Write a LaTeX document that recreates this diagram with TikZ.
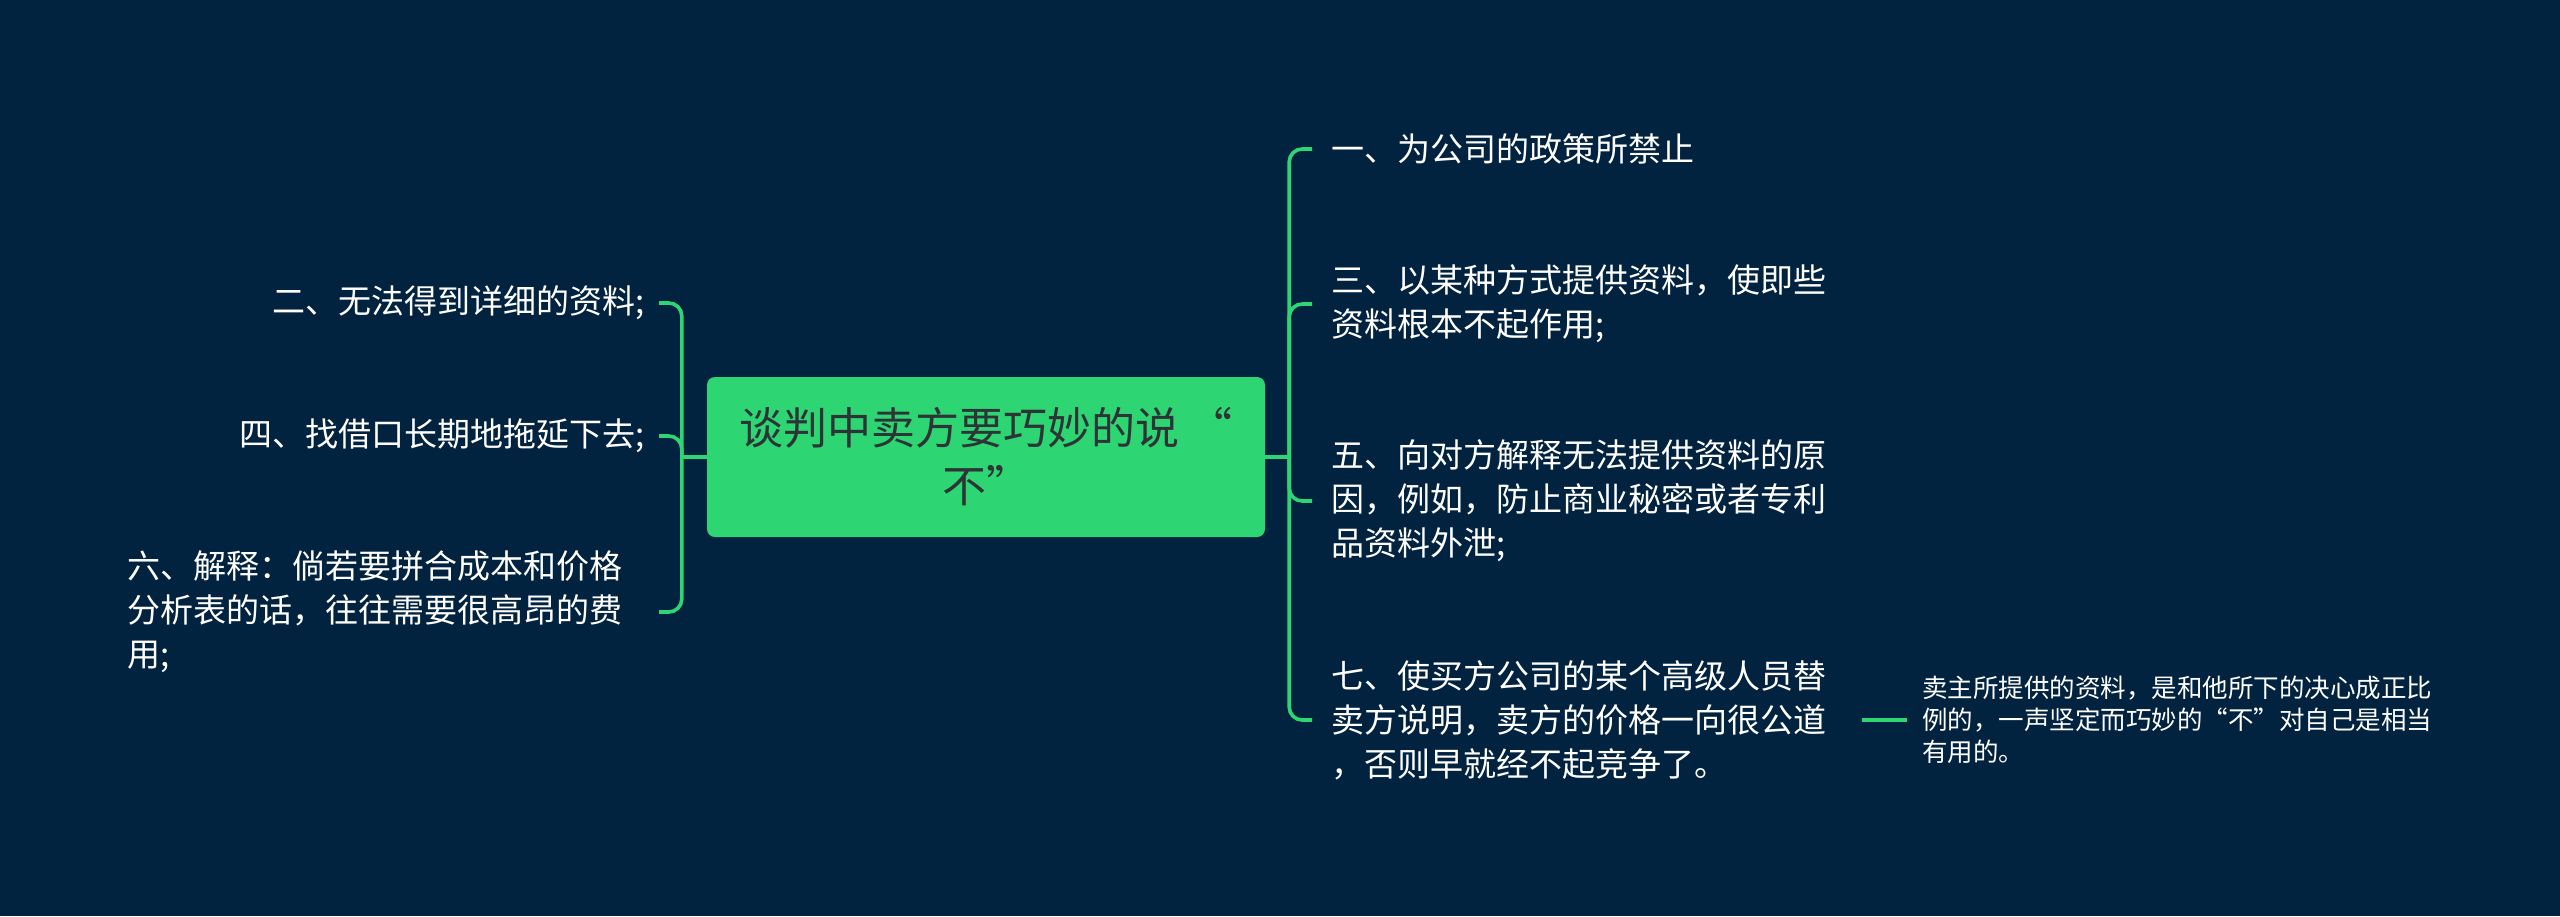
\documentclass[tikz,border=0pt]{standalone}
\usepackage{fontspec}
\newfontfamily\cjk{Noto Sans CJK SC}
\definecolor{bg}{RGB}{2,35,64}
\definecolor{mmgreen}{RGB}{46,213,115}
\definecolor{ctext}{RGB}{45,52,54}
\begin{document}
\begin{tikzpicture}[x=1pt,y=-1pt,
  conn/.style={draw=mmgreen,line width=3.6pt,rounded corners=13pt},
  leaf/.style={text=white,inner sep=0pt,font=\cjk\fontsize{33pt}{44pt}\selectfont,align=left},
  central/.style={fill=mmgreen,rounded corners=8pt,minimum width=558pt,minimum height=160pt,inner sep=0pt,align=center,text=ctext,font=\cjk\fontsize{44pt}{58pt}\selectfont}]
\fill[bg] (0,0) rectangle (2560,916);
\useasboundingbox (0,0) rectangle (2560,916);

\node[central] (c) at (986,457) {谈判中卖方要巧妙的说 “\\不”};

\node[leaf,anchor=west] (n1) at (1331,149) {一、为公司的政策所禁止};
\node[leaf,anchor=west] (n3) at (1331,304) {三、以某种方式提供资料，使即些\\资料根本不起作用;};
\node[leaf,anchor=west] (n5) at (1331,501) {五、向对方解释无法提供资料的原\\因，例如，防止商业秘密或者专利\\品资料外泄;};
\node[leaf,anchor=west] (n7) at (1331,720) {七、使买方公司的某个高级人员替\\卖方说明，卖方的价格一向很公道\\，否则早就经不起竞争了。};

\node[leaf,anchor=east,align=right] (n2) at (645,303) {二、无法得到详细的资料;};
\node[leaf,anchor=east,align=right] (n4) at (645,436) {四、找借口长期地拖延下去;};
\node[leaf,anchor=west] (n6) at (127,612) {六、解释：倘若要拼合成本和价格\\分析表的话，往往需要很高昂的费\\用;};

\node[leaf,anchor=west,font=\cjk\fontsize{25.5pt}{32pt}\selectfont] (n8) at (1922,720) {卖主所提供的资料，是和他所下的决心成正比\\例的，一声坚定而巧妙的“不”对自己是相当\\有用的。};

\coordinate (rj) at ([xshift=24pt]c.east);
\coordinate (lj) at ([xshift=-25pt]c.west);
\draw[conn] (c.east) -- (rj);
\draw[conn] (c.west) -- (lj);
\foreach \n in {n1,n3,n5,n7} \draw[conn] (rj) |- ([xshift=-19pt]\n.west);
\coordinate (le) at ([xshift=14pt]n2.east);
\draw[conn] (lj) |- (le);
\draw[conn] (lj) |- (n4.east -| le);
\draw[conn] (lj) |- (n6.east -| le);
\draw[conn] ([xshift=36pt]n7.east) -- ([xshift=-15pt]n8.west);
\end{tikzpicture}
\end{document}
